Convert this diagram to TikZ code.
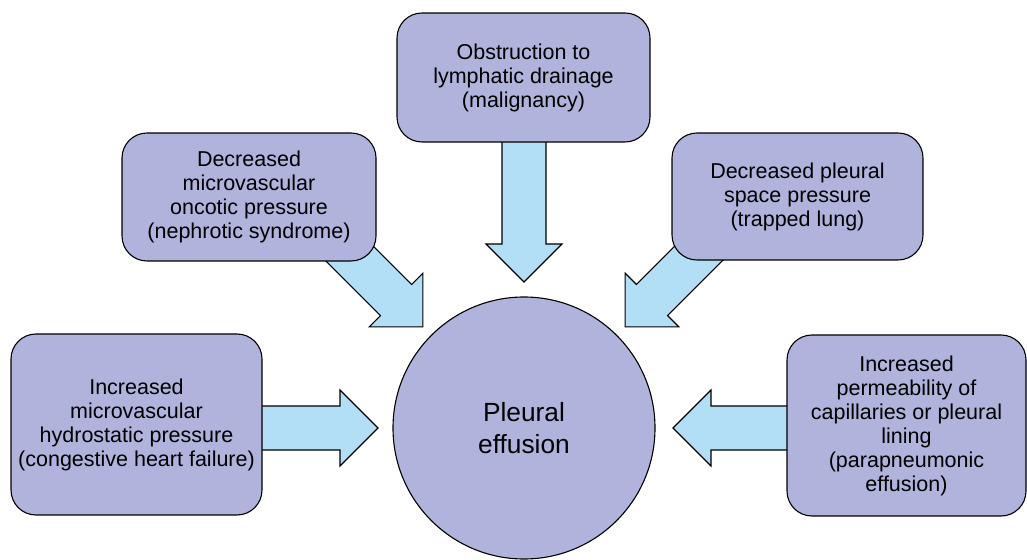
\documentclass[tikz,border=0pt]{standalone}
\usepackage{fontspec}
\setmainfont{Liberation Sans}
\usetikzlibrary{calc}
\definecolor{boxfill}{RGB}{176,179,219}
\definecolor{arrowfill}{RGB}{178,223,245}
% block arrow pointing at the circle: #1 = angle, #2 = tip distance
\newcommand\fatarrow[2]{%
  \coordinate (s) at ($(pe.center)+(#1:300)$);
  \coordinate (t) at ($(pe.center)+(#1:#2)$);
  \coordinate (h) at ($(t)!38pt!(s)$);
  \draw [blockarrow] ($(s)!22pt!90:(t)$) -- ($(h)!22pt!90:(t)$) -- ($(h)!38pt!90:(t)$)
    -- (t) -- ($(h)!38pt!-90:(t)$) -- ($(h)!22pt!-90:(t)$) -- ($(s)!22pt!-90:(t)$) -- cycle;
}
\begin{document}
\begin{tikzpicture}[x=1pt,y=1pt,line join=miter,
  cause/.style={draw,line width=1.1pt,fill=boxfill,rounded corners=25pt,align=center,
    inner sep=0pt,font=\fontsize{21.5}{24}\selectfont},
  blockarrow/.style={draw,line width=1.1pt,fill=arrowfill},
  result/.style={draw,circle,line width=1.1pt,fill=boxfill,minimum size=262pt,inner sep=0pt,
    align=center,font=\fontsize{26.3}{32}\selectfont}]
\useasboundingbox (0,0) rectangle (1027,559);
%%
\node (pe) at (524,131) [result] {Pleural\\effusion};
\fatarrow{90}{146}
\fatarrow{135}{143}
\fatarrow{45}{143}
\fatarrow{180}{146}
\fatarrow{0}{149}
%
\node (c_top) at (523.5,481.5) [cause,minimum width=253pt,minimum height=129pt] {Obstruction to\\lymphatic drainage\\(malignancy)};
\node (c_ul) at (249,362) [cause,minimum width=254pt,minimum height=128pt] {Decreased\\microvascular\\oncotic pressure\\(nephrotic syndrome)};
\node (c_ur) at (797.5,362.5) [cause,minimum width=251pt,minimum height=127pt] {Decreased pleural\\space pressure\\(trapped lung)};
\node (c_ll) at (136.5,134.5) [cause,minimum width=251pt,minimum height=181pt] {Increased\\microvascular\\hydrostatic pressure\\(congestive heart failure)};
\node (c_lr) at (906.5,133.5) [cause,minimum width=239pt,minimum height=181pt] {Increased\\permeability of\\capillaries or pleural\\lining\\(parapneumonic\\effusion)};
%
\end{tikzpicture}
\end{document}
